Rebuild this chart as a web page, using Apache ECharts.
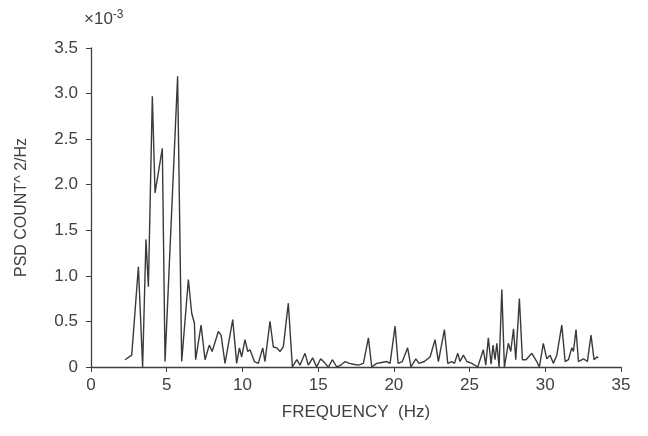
<!DOCTYPE html>
<html>
<head>
<meta charset="utf-8">
<script src="https://cdn.jsdelivr.net/npm/echarts@6/dist/echarts.min.js"></script>
<style>
  html, body { margin: 0; padding: 0; background: #fff; }
  #chart { width: 648px; height: 436px; }
</style>
</head>
<body>
<div id="chart"></div>
<script>
// frequency (Hz) and PSD (units of 1e-3 count^2/Hz)
const freq = [
  2.25, 2.69, 3.13, 3.41, 3.63, 3.79, 4.05, 4.23, 4.71, 4.89,
  5.72, 5.99, 6.43, 6.65, 6.83, 6.91, 7.27, 7.53, 7.81, 8.0,
  8.41, 8.59, 8.85, 9.36, 9.62, 9.80, 9.95, 10.17, 10.35, 10.50,
  10.79, 11.05, 11.34, 11.49, 11.82, 12.04, 12.27, 12.48, 12.70, 12.81,
  13.03, 13.30, 13.59, 13.80, 14.13, 14.35, 14.64, 14.90, 15.17, 15.46,
  15.68, 15.94, 16.23, 16.49, 16.78, 17.06, 17.33, 17.66, 17.99, 18.32,
  18.54, 18.87, 19.20, 19.53, 19.75, 20.08, 20.28, 20.56, 20.91, 21.13,
  21.45, 21.66, 22.01, 22.39, 22.72, 22.94, 23.34, 23.56, 23.82, 24.00,
  24.22, 24.37, 24.59, 24.82, 25.15, 25.54, 25.91, 26.07, 26.24, 26.42,
  26.55, 26.68, 26.80, 26.95, 27.13, 27.30, 27.56, 27.72, 27.90, 28.05,
  28.29, 28.49, 28.73, 29.11, 29.44, 29.61, 29.87, 30.10, 30.32, 30.53,
  30.76, 31.09, 31.31, 31.53, 31.75, 31.86, 32.03, 32.19, 32.52, 32.78,
  33.02, 33.22, 33.40, 33.50
];
const psd = [
  0.08, 0.13, 1.10, 0.00, 1.40, 0.88, 2.97, 1.91, 2.40, 0.06,
  3.19, 0.06, 0.96, 0.59, 0.48, 0.08, 0.46, 0.08, 0.24, 0.17,
  0.39, 0.35, 0.04, 0.52, 0.04, 0.21, 0.11, 0.30, 0.17, 0.19,
  0.06, 0.04, 0.21, 0.06, 0.50, 0.22, 0.21, 0.17, 0.22, 0.21,
  0.70, 0.00, 0.08, 0.02, 0.15, 0.02, 0.10, 0.00, 0.09, 0.04,
  0.00, 0.08, 0.00, 0.02, 0.06, 0.04, 0.03, 0.02, 0.04, 0.32,
  0.00, 0.04, 0.05, 0.06, 0.04, 0.45, 0.04, 0.06, 0.21, 0.00,
  0.09, 0.04, 0.06, 0.11, 0.30, 0.06, 0.41, 0.04, 0.06, 0.04,
  0.15, 0.06, 0.13, 0.06, 0.04, 0.00, 0.19, 0.02, 0.32, 0.03,
  0.24, 0.08, 0.26, 0.00, 0.85, 0.00, 0.26, 0.17, 0.42, 0.08,
  0.75, 0.08, 0.08, 0.15, 0.06, 0.00, 0.26, 0.09, 0.13, 0.04,
  0.13, 0.46, 0.06, 0.08, 0.21, 0.17, 0.41, 0.06, 0.09, 0.06,
  0.35, 0.08, 0.11, 0.10
];
const xTicks = [0, 5, 10, 15, 20, 25, 30, 35];
const yTickLabels = ['0', '0.5', '1.0', '1.5', '2.0', '2.5', '3.0', '3.5'];

const ink = '#404040';
const font = 'Liberation Sans, Arial, sans-serif';

const chart = echarts.init(document.getElementById('chart'));

chart.setOption({
  backgroundColor: '#ffffff',
  animation: false,
  grid: { left: 91, right: 27, top: 48, bottom: 69 },
  xAxis: {
    type: 'value',
    min: xTicks[0],
    max: xTicks[xTicks.length - 1],
    interval: 5,
    name: 'FREQUENCY  (Hz)',
    nameLocation: 'middle',
    nameGap: 37,
    nameTextStyle: { color: ink, fontSize: 17, fontFamily: font },
    axisLine: { lineStyle: { color: ink, width: 1.3 } },
    axisTick: { show: true, length: 5, lineStyle: { color: ink } },
    axisLabel: { color: ink, fontSize: 17, fontFamily: font, margin: 10 },
    splitLine: { show: false }
  },
  yAxis: {
    type: 'value',
    min: 0,
    max: 3.5,
    interval: 0.5,
    name: 'PSD COUNT^ 2/Hz',
    nameLocation: 'middle',
    nameRotate: 90,
    nameGap: 61,
    nameTextStyle: { color: ink, fontSize: 16, fontFamily: font },
    axisLine: { show: true, lineStyle: { color: ink, width: 1.3 } },
    axisTick: { show: true, length: 5, lineStyle: { color: ink } },
    axisLabel: {
      color: ink, fontSize: 17, fontFamily: font, margin: 13,
      formatter: v => yTickLabels[Math.round(v / 0.5)]
    },
    splitLine: { show: false }
  },
  graphic: [{
    type: 'text',
    left: 84,
    top: 9,
    style: {
      text: '×10{s|-3}',
      fill: ink,
      font: '17px Liberation Sans, Arial, sans-serif',
      rich: { s: { fontSize: 12, verticalAlign: 'top', fill: ink, padding: [0, 0, 9, 0] } }
    }
  }],
  series: [{
    type: 'line',
    data: freq.map((f, i) => [f, psd[i]]),
    showSymbol: false,
    lineStyle: { color: '#3a3a3a', width: 1.4 },
    z: 3
  }]
});
</script>
</body>
</html>
